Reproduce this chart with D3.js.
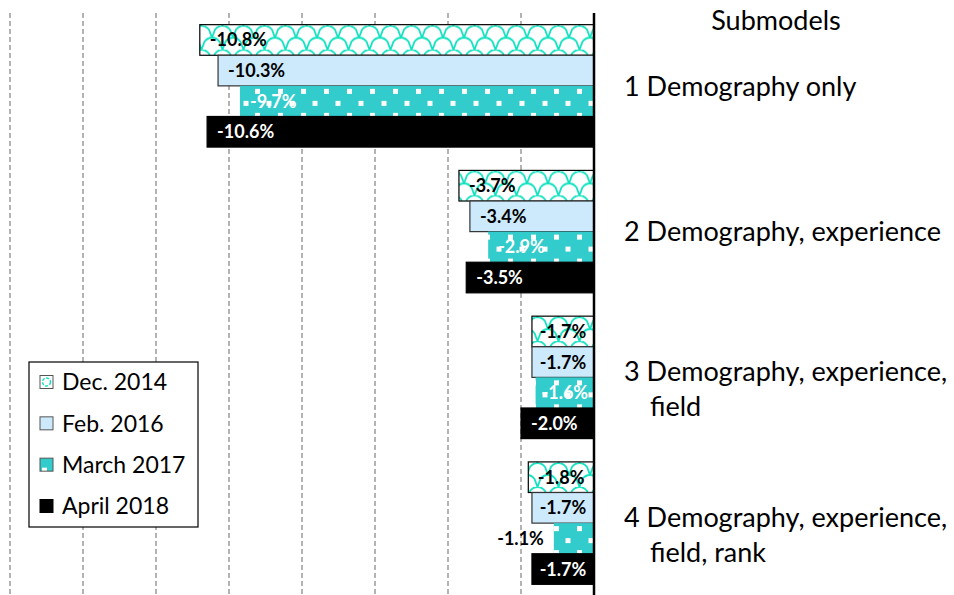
<!DOCTYPE html>
<html>
<head>
<meta charset="utf-8">
<script src="https://cdn.jsdelivr.net/npm/d3@7"></script>
<style>
  body { margin: 0; background: #fff; }
  svg { display: block; font-family: Lato, "Open Sans", sans-serif; }
</style>
</head>
<body>
<div id="chart"></div>
<script>
'use strict';

// submodels (y groups), top to bottom
const submodels = ['1', '2', '3', '4'];
const submodelLabels = [
  ['1 Demography only'],
  ['2 Demography, experience'],
  ['3 Demography, experience,', 'field'],
  ['4 Demography, experience,', 'field, rank']
];

// survey waves (series)
const waves = ['Dec. 2014', 'Feb. 2016', 'March 2017', 'April 2018'];

// values in %, one array per wave, in submodel order
const dec2014 = [-10.8, -3.7, -1.7, -1.8];
const feb2016 = [-10.3, -3.4, -1.7, -1.7];
const mar2017 = [-9.7, -2.9, -1.6, -1.1];
const apr2018 = [-10.6, -3.5, -2.0, -1.7];

const xTicks = [-16, -14, -12, -10, -8, -6, -4, -2, 0];

const seriesValues = [dec2014, feb2016, mar2017, apr2018];

const rows = [];
submodels.forEach((s, i) => {
  waves.forEach((w, j) => {
    rows.push({submodel: s, wave: w, value: seriesValues[j][i]});
  });
});

const width = 954, height = 595;

const svg = d3.select('#chart')
  .append('svg')
  .attr('width', width)
  .attr('height', height);

// patterns
const defs = svg.append('defs');

const scales = defs.append('pattern')
  .attr('id', 'pat-scales')
  .attr('patternUnits', 'userSpaceOnUse')
  .attr('width', 21)
  .attr('height', 24)
  .attr('x', 2)
  .attr('y', 1);
scales.append('rect').attr('width', 21).attr('height', 24).attr('fill', '#fff');
scales.append('path')
  .attr('d', 'M0,12 L3,4 Q6,0 10.5,0 Q15,0 18,4 L21,12 M-10.5,24 L-7.5,16 Q-4.5,12 0,12 Q4.5,12 7.5,16 L10.5,24 L13.5,16 Q16.5,12 21,12 Q25.5,12 28.5,16 L31.5,24')
  .attr('fill', 'none')
  .attr('stroke', '#10e2c0')
  .attr('stroke-width', 1.8);

const dots = defs.append('pattern')
  .attr('id', 'pat-dots')
  .attr('patternUnits', 'userSpaceOnUse')
  .attr('width', 23)
  .attr('height', 24)
  .attr('x', 2)
  .attr('y', 3);
dots.append('rect').attr('width', 23).attr('height', 24).attr('fill', '#33cccc');
dots.append('rect').attr('x', 0).attr('y', 0).attr('width', 5).attr('height', 5).attr('fill', '#fff');
dots.append('rect').attr('x', 11.5).attr('y', 12).attr('width', 5).attr('height', 5).attr('fill', '#fff');

const fills = {
  'Dec. 2014': 'url(#pat-scales)',
  'Feb. 2016': '#cdeafd',
  'March 2017': 'url(#pat-dots)',
  'April 2018': '#000'
};
const strokes = {
  'Dec. 2014': '#000',
  'Feb. 2016': '#333',
  'March 2017': 'none',
  'April 2018': '#000'
};
const labelColors = {
  'Dec. 2014': '#000',
  'Feb. 2016': '#000',
  'March 2017': '#fff',
  'April 2018': '#fff'
};

// scales
const x = d3.scaleLinear()
  .domain([-16, 0])
  .range([10, 594]);

const y = d3.scaleBand()
  .domain(submodels)
  .range([13, 596])
  .paddingInner(0.16)
  .paddingOuter(0.08);

const yInner = d3.scaleBand()
  .domain(waves)
  .range([0, y.bandwidth()]);

// gridlines
svg.append('g')
  .selectAll('line')
  .data(xTicks.filter(d => d !== 0))
  .join('line')
  .attr('x1', d => x(d))
  .attr('x2', d => x(d))
  .attr('y1', 13)
  .attr('y2', height)
  .attr('stroke', '#9a9a9a')
  .attr('stroke-width', 1.5)
  .attr('stroke-dasharray', '5,3');

// bars
const bars = svg.append('g')
  .selectAll('g')
  .data(rows)
  .join('g')
  .attr('transform', d => `translate(0, ${y(d.submodel) + yInner(d.wave)})`);

bars.append('rect')
  .attr('x', d => x(d.value))
  .attr('y', 0)
  .attr('width', d => x(0) - x(d.value))
  .attr('height', yInner.bandwidth())
  .attr('fill', d => fills[d.wave])
  .attr('stroke', d => strokes[d.wave])
  .attr('stroke-width', 1.2);

// value labels
bars.append('text')
  .attr('y', yInner.bandwidth() / 2)
  .attr('dy', '0.36em')
  .style('font-size', '18px')
  .style('font-weight', 'bold')
  .text(d => d.value.toFixed(1) + '%')
  .each(function(d) {
    const t = d3.select(this);
    const w = this.getComputedTextLength();
    const barW = x(0) - x(d.value);
    if (barW < w + 4) {
      // does not fit: outside, left of the bar
      t.attr('x', x(d.value) - 10).attr('text-anchor', 'end').attr('fill', '#000');
    } else {
      const pad = Math.min(10, (barW - w) / 2);
      t.attr('x', x(d.value) + pad).attr('fill', labelColors[d.wave]);
    }
  });

// zero line
svg.append('line')
  .attr('x1', x(0))
  .attr('x2', x(0))
  .attr('y1', 13)
  .attr('y2', height)
  .attr('stroke', '#000')
  .attr('stroke-width', 2.5);

// category labels at the right
svg.append('text')
  .attr('x', 776)
  .attr('y', 20)
  .attr('dy', '0.36em')
  .attr('text-anchor', 'middle')
  .style('font-size', '27px')
  .attr('fill', '#000')
  .text('Submodels');

const catG = svg.append('g')
  .selectAll('text')
  .data(submodels)
  .join('text')
  .attr('x', 624)
  .attr('y', (d, i) => y(d) + y.bandwidth() / 2 - (submodelLabels[i].length > 1 ? 6 : 0))
  .style('font-size', '27px')
  .attr('fill', '#000');

catG.selectAll('tspan')
  .data((d, i) => submodelLabels[i])
  .join('tspan')
  .attr('x', (d, i) => i === 0 ? 624 : 650)
  .attr('dy', (d, i) => i === 0 ? '0.36em' : '1.3em')
  .text(d => d);

// legend
const legend = svg.append('g')
  .attr('transform', 'translate(29, 362)');

legend.append('rect')
  .attr('width', 169)
  .attr('height', 165)
  .attr('fill', '#fff')
  .attr('stroke', '#000')
  .attr('stroke-width', 1.2);

const legendY = d3.scalePoint()
  .domain(waves)
  .range([20, 144]);

const items = legend.selectAll('g')
  .data(waves)
  .join('g')
  .attr('transform', d => `translate(11, ${legendY(d)})`);

items.append('rect')
  .attr('x', 0)
  .attr('y', -6.5)
  .attr('width', 13)
  .attr('height', 13)
  .attr('fill', d => d === 'Dec. 2014' ? '#fff' : fills[d])
  .attr('stroke', d => d === 'April 2018' ? '#000' : '#555')
  .attr('stroke-width', 1);

// tiny scale motif in the Dec. 2014 swatch
items.filter(d => d === 'Dec. 2014')
  .append('circle')
  .attr('cx', 6.5)
  .attr('r', 4)
  .attr('fill', 'none')
  .attr('stroke', '#10e2c0')
  .attr('stroke-width', 1.5)
  .attr('stroke-dasharray', '3,1.5');

items.append('text')
  .attr('x', 22)
  .attr('dy', '0.36em')
  .style('font-size', '23px')
  .attr('fill', '#000')
  .text(d => d);
</script>
</body>
</html>
